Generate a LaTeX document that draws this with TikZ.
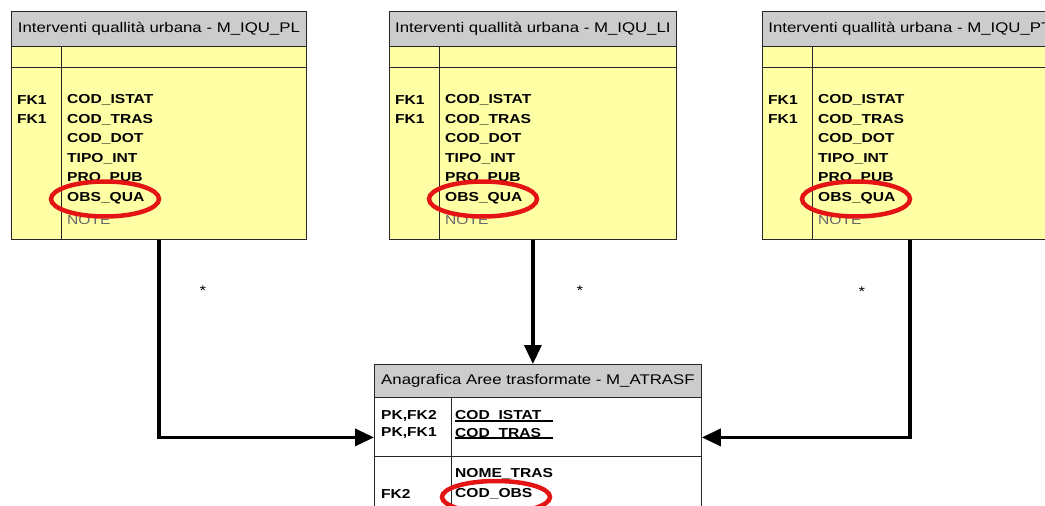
\documentclass[tikz,border=0pt]{standalone}
\usepackage{fontspec}
\setmainfont{Liberation Sans}
\newfontfamily\erfont[FakeStretch=1.2]{Liberation Sans}
\usetikzlibrary{arrows.meta,positioning}
\definecolor{tabyellow}{RGB}{255,255,166}
\definecolor{hdrgray}{RGB}{204,204,204}
\definecolor{markred}{RGB}{228,20,20}
\definecolor{notegray}{RGB}{105,105,105}

\begin{document}
\begin{tikzpicture}[
  x=1pt,y=-1pt,
  hdr/.style={draw=black!85,line width=0.8pt,fill=hdrgray,anchor=north west,
              inner sep=0pt,minimum height=35pt,
              font=\erfont\fontsize{14}{16}\selectfont},
  tabbox/.style={draw=black!85,line width=0.8pt,fill=tabyellow,
                 anchor=north west,inner sep=0pt},
  fld/.style={anchor=west,inner sep=0pt,
              font=\erfont\fontsize{13}{15}\selectfont\bfseries},
  ringmark/.style={draw=markred,line width=4.5pt},
  conn/.style={line width=3.5pt,-{Triangle[length=19pt,width=17pt]}},
  card/.style={inner sep=0pt,font=\erfont\fontsize{14}{16}\selectfont}
]
\useasboundingbox (0,0) rectangle (1045,506);

% Interventi tables
\foreach \nm/\xl/\tw/\suf in {pl/11/295/PL,li/389/287/LI,pt/762/295/PT}{
  \node[hdr,minimum width=\tw pt] (\nm-hdr) at (\xl,11)
    {Interventi quallità urbana - M\_IQU\_\suf};
  \node[tabbox,minimum width=\tw pt,minimum height=21pt] (\nm-key) at (\xl,46) {};
  \node[tabbox,minimum width=\tw pt,minimum height=172pt] (\nm-body) at (\xl,67) {};
  \draw[black!85,line width=0.8pt] ([xshift=50pt]\nm-key.north west)
    -- ([xshift=50pt]\nm-body.south west);
  \node[fld] (\nm-k1) at (\xl+6,100) {FK1};
  \node[fld] (\nm-k2) at (\xl+6,119.5) {FK1};
  \foreach \y/\fname [count=\i] in {100/COD\_ISTAT,119.5/COD\_TRAS,139/COD\_DOT,
                                   158.5/TIPO\_INT,178/PRO\_PUB}
    \node[fld] (\nm-a\i) at (\xl+56,\y) {\fname};
  \node[fld,font=\erfont\fontsize{13}{15}\selectfont,text=notegray]
    (\nm-note) at (\xl+56,220.5) {NOTE};
  \node[fld,anchor=base west,fill=tabyellow,text height=19pt,text depth=11pt]
    (\nm-obs) at (\xl+56,201.5) {OBS\_QUA};
  \draw[ringmark] (\xl+94,199) ellipse [x radius=54pt,y radius=17.5pt];
}

% Anagrafica table
\node[hdr,minimum width=327pt,minimum height=33pt] (atr-hdr) at (374,364)
  {Anagrafica Aree trasformate - M\_ATRASF};
\node[tabbox,fill=white,minimum width=327pt,minimum height=59pt] (atr-key) at (374,397) {};
\node[tabbox,fill=white,minimum width=327pt,minimum height=60pt] (atr-body) at (374,456) {};
\draw[black!85,line width=0.8pt] ([xshift=77pt]atr-key.north west)
  -- ([xshift=77pt]atr-body.south west);
\node[fld] (atr-k1) at (381,416) {PK,FK2};
\node[fld] (atr-k2) at (381,433.5) {PK,FK1};
\node[fld] (atr-a1) at (455,416) {COD\_ISTAT};
\node[fld] (atr-a2) at (455,433.5) {COD\_TRAS};
\draw[line width=1.6pt] ([yshift=-1pt]atr-a1.base west) -- ++(98,0);
\draw[line width=1.6pt] ([yshift=-1pt]atr-a2.base west) -- ++(98,0);
\node[fld] (atr-a3) at (455,474) {NOME\_TRAS};
\node[fld] (atr-k3) at (381,494) {FK2};
\node[fld] (atr-a4) at (455,494) {COD\_OBS};
\draw[ringmark] (496,497) ellipse [x radius=54pt,y radius=16pt];

% Connectors
\draw[conn] (pl-body.south) |- ([yshift=-10.5pt]atr-key.west);
\draw[conn] (li-body.south) -- (li-body.south |- atr-hdr.north);
\draw[conn] (pt-body.south) |- ([yshift=-10.5pt]atr-key.east);
\node[card] (c1) at (203,290.5) {*};
\node[card] (c2) at (580,290.5) {*};
\node[card] (c3) at (862,291.5) {*};
\end{tikzpicture}
\end{document}
